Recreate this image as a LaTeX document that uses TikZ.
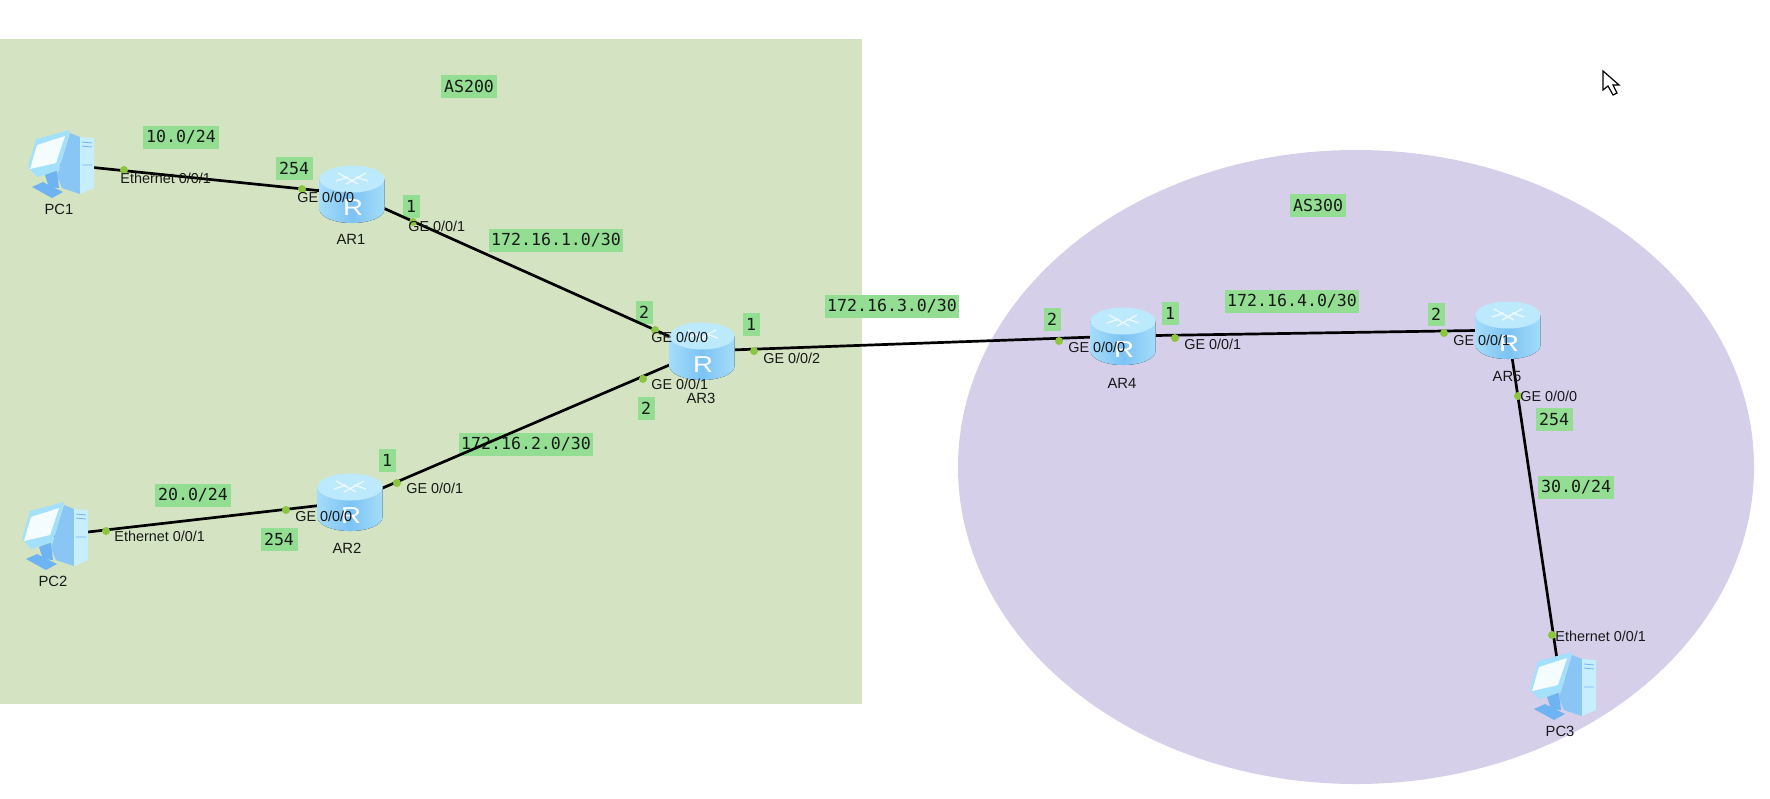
\documentclass[tikz,border=0pt]{standalone}
\usepackage{fontspec}
\setmainfont{Liberation Sans}
\newfontfamily\labelfont{DejaVu Sans Mono}
\usetikzlibrary{calc,shapes}
\pgfdeclarelayer{back}
\pgfsetlayers{back,main}
\definecolor{zonegreen}{HTML}{D4E4C2}
\definecolor{zonepurple}{HTML}{D6CFEA}
\definecolor{tagfill}{HTML}{93DE93}
\definecolor{portdot}{HTML}{8CC63F}
\definecolor{routerside}{HTML}{7CC3F4}
\definecolor{routeredge}{HTML}{A5DCFA}
\definecolor{routertop}{HTML}{BDE9FC}
\definecolor{pcblue}{HTML}{6FB4F2}
\definecolor{pclight}{HTML}{C6EEFC}
\definecolor{pcframe}{HTML}{A2E0FB}
\newcommand{\routerbody}{
  \begin{scope}[shift={(path picture bounding box.center)}]
    \fill[left color=routeredge,right color=routeredge,middle color=routerside]
      (-32.5,-15) -- (-32.5,15) .. controls (-32.5,23) and (-18,29) .. (0,29)
      .. controls (18,29) and (32.5,23) .. (32.5,15) -- (32.5,-15) -- cycle;
    \fill[routertop] (0,-15) ellipse [x radius=32.5,y radius=13.5];
    \draw[white!70!routertop,line width=.7pt] (-14,-21) -- (6,-10) (14,-21) -- (-6,-10) (-16,-13) -- (-4,-17) (16,-13) -- (4,-17);
  \end{scope}
}
\newcommand{\pcbody}{
  \begin{scope}[shift={(path picture bounding box.center)}]
    \fill[pcblue] (-27,23) -- (-16,18) -- (4,28) -- (-7,34) -- cycle;
    \fill[pcblue] (-14,11) -- (-2,6) -- (0,24) -- (-10,23) -- cycle;
    \fill[pcblue!70!pclight] (11,-31) -- (21,-27) -- (21,30) -- (3,24) -- (-2,12) -- cycle;
    \fill[pclight] (21,-27) -- (35,-26) -- (35,24) -- (21,30) -- cycle;
    \fill[pcframe] (-31,3) -- (-23,-25) -- (11,-34) -- (0,6) -- (-22,13) -- cycle;
    \fill[white!80!pclight] (-29,5) -- (-22,-19) -- (6,-28) -- (-3,-1) -- cycle;
    \draw[pcblue,line width=.4pt] (23,-22) -- (33,-21) (23,-18) -- (33,-17) (23,1) -- (33,1);
  \end{scope}
}
\tikzset{
  router/.style={rectangle,inner sep=0pt,minimum width=33pt,minimum height=29.5pt,path picture={\routerbody}},
  routerletter/.style={inner sep=0pt,text=white,font=\fontsize{11.5}{12}\selectfont,xscale=1.2},
  pc/.style={rectangle,inner sep=0pt,minimum width=36pt,minimum height=34pt,path picture={\pcbody}},
  tag/.style={fill=tagfill,inner sep=0pt,minimum height=11.5pt,text=black!90,font=\labelfont\fontsize{8.3}{10}\selectfont,text width=#1,align=center},
  devname/.style={text=black!90,font=\fontsize{7.4}{9}\selectfont,inner sep=0pt},
  port/.style={text=black!90,font=\fontsize{7.2}{9}\selectfont,inner sep=0pt,anchor=west},
  dot/.style={circle,fill=portdot,inner sep=0pt,minimum size=4pt},
  link/.style={line width=1.35pt,black}
}
\begin{document}
\begin{tikzpicture}[x=0.5pt,y=-0.5pt]
          \useasboundingbox (0,0) rectangle (1770,798);
          \begin{pgfonlayer}{back}
          \fill[zonegreen] (0,39) rectangle (862,704);
          \fill[zonepurple] (1356,467) ellipse [x radius=398,y radius=317];
          \node[tag=28pt] (AS200) at (469,86) {AS200};
          \node[tag=28pt] (AS300) at (1318,205) {AS300};
          \node[tag=38pt] (NetA) at (181,137) {10.0/24};
          \node[tag=38pt] (NetB) at (193,495) {20.0/24};
          \node[tag=38pt] (NetC) at (1576,487) {30.0/24};
          \node[tag=67pt] (Net1) at (556,240) {172.16.1.0/30};
          \node[tag=67pt] (Net2) at (526,444) {172.16.2.0/30};
          \node[tag=67pt] (Net3) at (892,306) {172.16.3.0/30};
          \node[tag=67pt] (Net4) at (1292,301) {172.16.4.0/30};
          \node[tag=18.5pt] (T1) at (294,168) {254};
          \node[tag=18.5pt] (T2) at (279,539) {254};
          \node[tag=18.5pt] (T3) at (1554,419) {254};
          \node[tag=8.5pt] (T4) at (411,206) {1};
          \node[tag=8.5pt] (T5) at (387,460) {1};
          \node[tag=8.5pt] (T6) at (644,312) {2};
          \node[tag=8.5pt] (T7) at (646,408) {2};
          \node[tag=8.5pt] (T8) at (751,324) {1};
          \node[tag=8.5pt] (T9) at (1052,319) {2};
          \node[tag=8.5pt] (T10) at (1170,313) {1};
          \node[tag=8.5pt] (T11) at (1436,314) {2};
          \end{pgfonlayer}
          \node[router] (AR1) at (352,194) {};
          \node[router] (AR2) at (350,502) {};
          \node[router] (AR3) at (702,351) {};
          \node[router] (AR4) at (1123,336) {};
          \node[router] (AR5) at (1508,330) {};
          \node[routerletter] (R1) at ($(AR1)+(1,14)$) {R};
          \node[routerletter] (R2) at ($(AR2)+(1,14)$) {R};
          \node[routerletter] (R3) at ($(AR3)+(1,14)$) {R};
          \node[routerletter] (R4) at ($(AR4)+(1,14)$) {R};
          \node[routerletter] (R5) at ($(AR5)+(1,14)$) {R};
          \node[pc] (PC1) at (59,164) {};
          \node[pc] (PC2) at (53,536) {};
          \node[pc] (PC3) at (1561,686) {};
          \begin{pgfonlayer}{back}
          \draw[link] (PC1.center) -- (AR1.center);
          \draw[link] (PC2.center) -- (AR2.center);
          \draw[link] (AR1.center) -- (AR3.center);
          \draw[link] (AR2.center) -- (AR3.center);
          \draw[link] (AR3.center) -- (AR4.center);
          \draw[link] (AR4.center) -- (AR5.center);
          \draw[link] (AR5.center) -- (PC3.center);
          \end{pgfonlayer}
          \node[devname] (NameA1) at (351,239) {AR1};
          \node[devname] (NameA2) at (347,548) {AR2};
          \node[devname] (NameA3) at (701,398) {AR3};
          \node[devname] (NameA4) at (1122,383) {AR4};
          \node[devname] (NameA5) at (1507,376) {AR5};
          \node[devname] (NameP1) at (59,209) {PC1};
          \node[devname] (NameP2) at (53,581) {PC2};
          \node[devname] (NameP3) at (1560,731) {PC3};
          \node[dot] (D1) at (124,170) {};
          \node[dot] (D2) at (302,189) {};
          \node[dot] (D3) at (413,222) {};
          \node[dot] (D4) at (655,330) {};
          \node[dot] (D5) at (643,379) {};
          \node[dot] (D6) at (754,351) {};
          \node[dot] (D7) at (397,483) {};
          \node[dot] (D8) at (286,510) {};
          \node[dot] (D9) at (106,531) {};
          \node[dot] (D10) at (1059,341) {};
          \node[dot] (D11) at (1175,338) {};
          \node[dot] (D12) at (1444,333) {};
          \node[dot] (D13) at (1518,396) {};
          \node[dot] (D14) at (1552,635) {};
          \node[port] (E1) at (120,178) {Ethernet 0/0/1};
          \node[port] (G1) at (297,197) {GE 0/0/0};
          \node[port] (G2) at (408,226) {GE 0/0/1};
          \node[port] (G3) at (651,337) {GE 0/0/0};
          \node[port] (G4) at (651,384) {GE 0/0/1};
          \node[port] (G5) at (763,358) {GE 0/0/2};
          \node[port] (G6) at (406,488) {GE 0/0/1};
          \node[port] (G7) at (295,516) {GE 0/0/0};
          \node[port] (E2) at (114,536) {Ethernet 0/0/1};
          \node[port] (G8) at (1068,347) {GE 0/0/0};
          \node[port] (G9) at (1184,344) {GE 0/0/1};
          \node[port] (G10) at (1453,340) {GE 0/0/1};
          \node[port] (G11) at (1520,396) {GE 0/0/0};
          \node[port] (E3) at (1555,636) {Ethernet 0/0/1};
          \draw[fill=white,line width=.6pt] (1603,71) -- (1603,90) -- (1608,86) -- (1613,95) -- (1617,93) -- (1613,85) -- (1619,85) -- cycle;
        \end{tikzpicture}
\end{document}
